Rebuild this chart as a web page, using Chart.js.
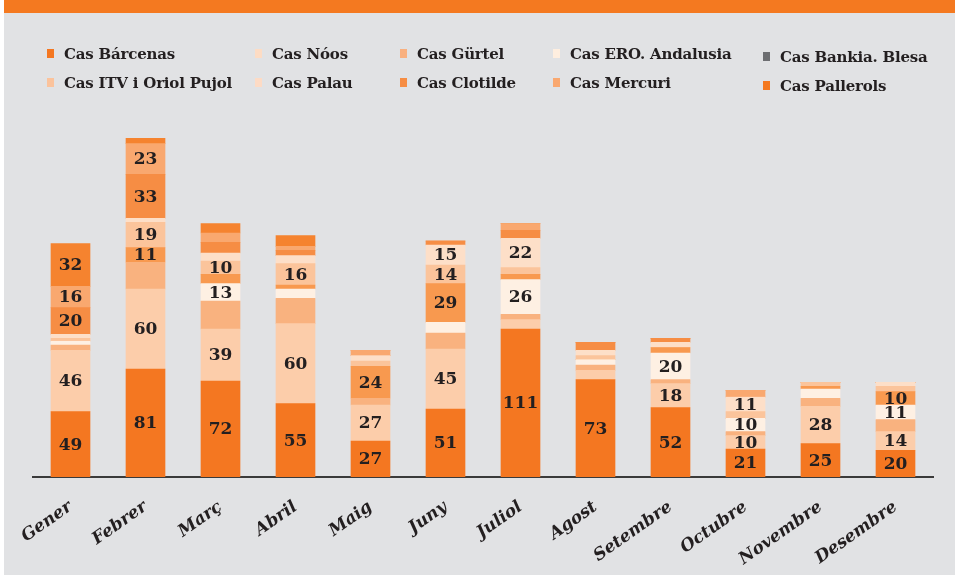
<!DOCTYPE html>
<html lang="ca">
<head>
<meta charset="utf-8">
<title>Casos de corrupció per mes</title>
<script src="https://cdn.jsdelivr.net/npm/chart.js@4/dist/chart.umd.min.js"></script>
<style>
    body { margin: 0; background: #fff; }
    #page { position: absolute; left: 4px; top: 0; width: 951px; height: 575px; background: #e1e2e4; }
    #band { position: absolute; left: 4px; top: 0; width: 951px; height: 13px; background: #f47920; }
    #wrap { position: absolute; left: 0; top: 0; width: 955px; height: 575px; }
    #legend {
        position: absolute; left: 47px; top: 39px;
        display: grid; grid-template-columns: 208px 145px 153px 210px auto; grid-auto-rows: 29px;
        font: bold 15px "DejaVu Serif"; color: #231f20; letter-spacing: -0.2px;
    }
    .item { display: flex; align-items: center; white-space: nowrap; }
    .item.last { position: relative; top: 3px; }
    .box { width: 7px; height: 9px; margin-right: 10px; flex: none; }
</style>
</head>
<body>
<div id="page"></div>
<div id="band"></div>
<div id="wrap"><canvas id="chart" width="955" height="575"></canvas></div>
<div id="legend"></div>
<script>
// mesos
const mesos = ['Gener', 'Febrer', 'Març', 'Abril', 'Maig', 'Juny', 'Juliol', 'Agost', 'Setembre', 'Octubre', 'Novembre', 'Desembre'];

// valors per cas (ordre d'apilament, de baix a dalt)
const barcenas  = [49, 81, 72, 55, 27, 51, 111, 73, 52, 21, 25, 20];
const noos      = [46, 60, 39, 60, 27, 45,   7,  7, 18, 10, 28, 14];
const gurtel    = [ 4, 20, 21, 19,  5, 12,   4,  4,  3,  3,  6,  9];
const ero       = [ 3,  0, 13,  7,  0,  8,  26,  4, 20, 10,  7, 11];
const bankia    = [ 0, 11,  7,  3, 24, 29,   4,  0,  4,  0,  2, 10];
const itv       = [ 2, 19, 10, 16,  4, 14,   5,  3,  0,  5,  3,  4];
const palau     = [ 3,  3,  6,  6,  4, 15,  22,  4,  4, 11,  0,  3];
const clotilde  = [20, 33,  8,  4,  0,  3,   6,  6,  3,  0,  0,  0];
const mercuri   = [16, 23,  7,  3,  4,  0,   5,  0,  0,  5,  0,  0];
const pallerols = [32,  4,  7,  8,  0,  0,   0,  0,  0,  0,  0,  0];

const casos = ['Cas Bárcenas', 'Cas Nóos', 'Cas Gürtel', 'Cas ERO. Andalusia', 'Cas Bankia. Blesa',
               'Cas ITV i Oriol Pujol', 'Cas Palau', 'Cas Clotilde', 'Cas Mercuri', 'Cas Pallerols'];
const valors = [barcenas, noos, gurtel, ero, bankia, itv, palau, clotilde, mercuri, pallerols];
const colors = ['#f47721', '#fccdaa', '#f9b27f', '#fef0e3', '#f8994f', '#fbc49b', '#fddfc8', '#f68d44', '#f9a86f', '#f5832f'];
const colorsLlegenda = ['#f47721', '#fddcc4', '#f9b07f', '#feeedf', '#6d6e71', '#fbc39c', '#fddbc5', '#f68d44', '#f9a870', '#f47920'];
// el Gürtel no porta xifres al gràfic
const ambXifra = [true, true, false, true, true, true, true, true, true, true];

// llegenda en HTML, 5 columnes
const legend = document.getElementById('legend');
casos.forEach((nom, i) => {
    const item = document.createElement('div');
    item.className = 'item' + (i % 5 === 4 ? ' last' : '');
    const box = document.createElement('span');
    box.className = 'box';
    box.style.background = colorsLlegenda[i];
    item.appendChild(box);
    item.appendChild(document.createTextNode(nom));
    legend.appendChild(item);
});

// xifres dins dels segments
const xifres = {
    id: 'xifres',
    afterDatasetsDraw(chart) {
        const c = chart.ctx;
        c.save();
        c.font = 'bold 17px "DejaVu Serif"';
        c.fillStyle = '#231f20';
        c.textAlign = 'center';
        c.textBaseline = 'middle';
        chart.data.datasets.forEach((ds, i) => {
            if (!ambXifra[i]) return;
            chart.getDatasetMeta(i).data.forEach((bar, j) => {
                const v = ds.data[j];
                if (v < 10) return;
                c.fillText(v, bar.x, (bar.y + bar.base) / 2 + 1);
            });
        });
        c.restore();
    }
};

new Chart(document.getElementById('chart'), {
    type: 'bar',
    data: {
        labels: mesos,
        datasets: casos.map((nom, i) => ({
            label: nom,
            data: valors[i],
            backgroundColor: colors[i],
            borderWidth: 0,
            barThickness: 39
        }))
    },
    options: {
        responsive: false,
        animation: false,
        devicePixelRatio: 1,
        layout: { padding: { left: 33, right: 22, top: 117, bottom: 0 } },
        plugins: { legend: { display: false }, tooltip: { enabled: false } },
        scales: {
            x: {
                stacked: true,
                grid: { display: false, drawTicks: false },
                border: { display: true, color: '#3a3a3a', width: 2 },
                ticks: {
                    color: '#231f20',
                    font: { family: 'DejaVu Serif', weight: 'bold', style: 'italic', size: 17 },
                    minRotation: 35,
                    maxRotation: 35,
                    padding: 20
                },
                afterFit(scale) { scale.height = 98; }
            },
            y: { stacked: true, display: false, min: 0, max: 270 }
        }
    },
    plugins: [xifres]
});
</script>
</body>
</html>
